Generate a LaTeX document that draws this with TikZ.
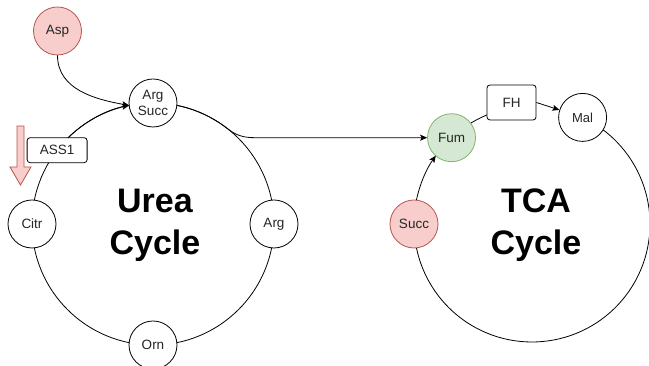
\documentclass[tikz,border=0pt]{standalone}
\usepackage{fontspec}
\setmainfont{Liberation Sans}
\usetikzlibrary{arrows.meta,calc}
\definecolor{redfill}{HTML}{F8CECC}
\definecolor{redline}{HTML}{B85450}
\definecolor{greenfill}{HTML}{D5E8D4}
\definecolor{greenline}{HTML}{82B366}
\begin{document}
\begin{tikzpicture}[x=1pt,y=1pt,line width=0.8pt,
  mol/.style={circle,draw=black,fill=white,minimum size=48pt,inner sep=0pt,
    font=\fontsize{13.5}{16.5}\selectfont,align=center,text=black!85},
  redmol/.style={mol,draw=redline,fill=redfill},
  greenmol/.style={mol,draw=greenline,fill=greenfill},
  enz/.style={draw,rounded corners=3pt,fill=white,inner sep=0pt,
    font=\fontsize{13.5}{15}\selectfont,text=black!85},
  arr/.style={-{Stealth[length=7pt,width=6pt,inset=1.5pt]}},
  big/.style={font=\fontsize{34}{40}\selectfont\bfseries,anchor=base,inner sep=0pt}]
\useasboundingbox (0,0) rectangle (649,366);
\coordinate (U) at (153,142);
\coordinate (T) at (532,142);
% urea cycle ring
\draw (U) circle (121);
% TCA ring segments
\draw ($(T)+(52.9:118)$) arc[start angle=52.9,end angle=-168.3,radius=118];
\draw ($(T)+(121.3:118)$) arc[start angle=121.3,end angle=112.4,radius=118];
% nodes
\node[redmol] (Asp) at (57.5,335) {Asp};
\node[mol] (ArgSucc) at ($(U)+(90:121)$) {Arg\\Succ};
\node[mol] (Arg) at ($(U)+(0:121)$) {Arg};
\node[mol] (Orn) at ($(U)+(270:121)$) {Orn};
\node[mol] (Citr) at ($(U)+(180:121)$) {Citr};
\node[enz,minimum width=60pt,minimum height=25pt] (ASS1) at ($(U)+(142.4:121)$) {ASS1};
\node[greenmol] (Fum) at ($(T)+(133:118)$) {Fum};
\node[redmol] (Succ) at ($(T)+(180:118)$) {Succ};
\node[mol,font=\fontsize{13}{15}\selectfont] (Mal) at ($(T)+(64.6:118)$) {Mal};
\node[enz,minimum width=49pt,minimum height=35pt] (FH) at (511.5,263.5) {FH};
% big labels
\node[big] (ureaA) at (155,153) {Urea};
\node[big] (ureaB) at (155,111) {Cycle};
\node[big] (tcaA) at (536,153) {TCA};
\node[big] (tcaB) at (536,111) {Cycle};
% connectors
\coordinate (ASin) at ($(U)+(101.4:121)$);
\draw[arr] (Asp.south) to[out=-90,in=170] (ASin);
\draw[arr] ($(U)+(134.7:121)$) arc[start angle=134.7,end angle=101.4,radius=121];
\draw[arr] ($(U)+(78.6:121)$) arc[start angle=78.6,end angle=52,radius=121]
  to[out=-38,in=180] ($(Fum.west)+(-172,0)$) -- (Fum.west);
\draw[arr] ($(T)+(168.3:118)$) arc[start angle=168.3,end angle=144.6,radius=118];
\draw[arr] (FH.east) -- (Mal);
% red block arrow
\draw[redline,fill=redfill] (17,240) -- (24,240) -- (24,199) -- (31,199) -- (20.5,181) -- (10,199) -- (17,199) -- cycle;
\end{tikzpicture}
\end{document}
